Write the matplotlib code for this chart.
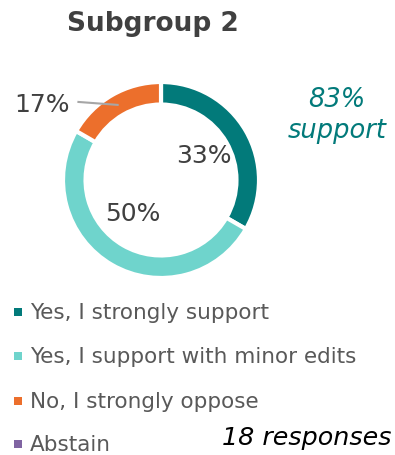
import numpy as np
import matplotlib
matplotlib.use("Agg")
import matplotlib.pyplot as plt

# Survey results
title = "Subgroup 2"
categories = ["Yes, I strongly support", "Yes, I support with minor edits",
              "No, I strongly oppose", "Abstain"]
counts = [6, 9, 3, 0]
colors = ["#027a7a", "#6fd4cc", "#ec6f2c", "#8064a2"]
support_label = "83%\nsupport"
responses_label = "18 responses"

W, H = 395, 456
fig = plt.figure(figsize=(W / 100, H / 100), dpi=100)

# overlay in pixel units for text and legend
ov = fig.add_axes([0, 0, 1, 1])
ov.set_xlim(0, W)
ov.set_ylim(H, 0)
ov.axis("off")

# donut
cx, cy, r = 161, 181, 98
pie_ax = fig.add_axes([(cx - r) / W, (H - cy - r) / H, 2 * r / W, 2 * r / H])
pie_ax.set_aspect("equal")
pie_ax.axis("off")

total = sum(counts)
vals = [c for c in counts if c > 0]
cols = [col for c, col in zip(counts, colors) if c > 0]
width = 0.23
wedges, _ = pie_ax.pie(vals, colors=cols, startangle=90, counterclock=False,
                       radius=1.0, wedgeprops=dict(width=width, edgecolor="white", linewidth=3))
pie_ax.set_xlim(-1, 1)
pie_ax.set_ylim(-1, 1)

label_color = "#404040"
for w, v in zip(wedges, vals):
    pct = f"{round(100 * v / total):.0f}%"
    mid = np.deg2rad((w.theta1 + w.theta2) / 2)
    frac = v / total
    if frac < 0.25:
        # outside label with leader line
        rm = 1 - width / 2
        x0, y0 = rm * np.cos(mid), rm * np.sin(mid)
        pie_ax.plot([x0, x0 - 0.40], [y0, y0 + 0.03], color="#a6a6a6", lw=1.5,
                    clip_on=False)
        pie_ax.text(x0 - 0.77, y0 + 0.01, pct, ha="center", va="center",
                    fontsize=18, color=label_color, clip_on=False)
    else:
        rl = 0.51 if frac < 0.4 else 0.44
        ang = mid if frac < 0.4 else mid - np.deg2rad(11)
        pie_ax.text(rl * np.cos(ang), rl * np.sin(ang), pct, ha="center",
                    va="center", fontsize=18, color=label_color)

ov.text(153, 24, title, ha="center", va="center", fontsize=19,
        fontweight="bold", color="#404040")
ov.text(337, 116, support_label, ha="center", va="center", fontsize=18.5,
        style="italic", color="#027a7a", linespacing=1.25)

# legend
ys = [313, 357, 402, 445]
for y, lab, col in zip(ys, categories, colors):
    ov.scatter([18], [y], marker="s", s=26, color=col, linewidths=0)
    ov.text(30, y, lab, ha="left", va="center", fontsize=15.5, color="#595959")

ov.text(391, 438, responses_label, ha="right", va="center", fontsize=18.3,
        style="italic", color="black")

fig.savefig("out.png", dpi=100)
